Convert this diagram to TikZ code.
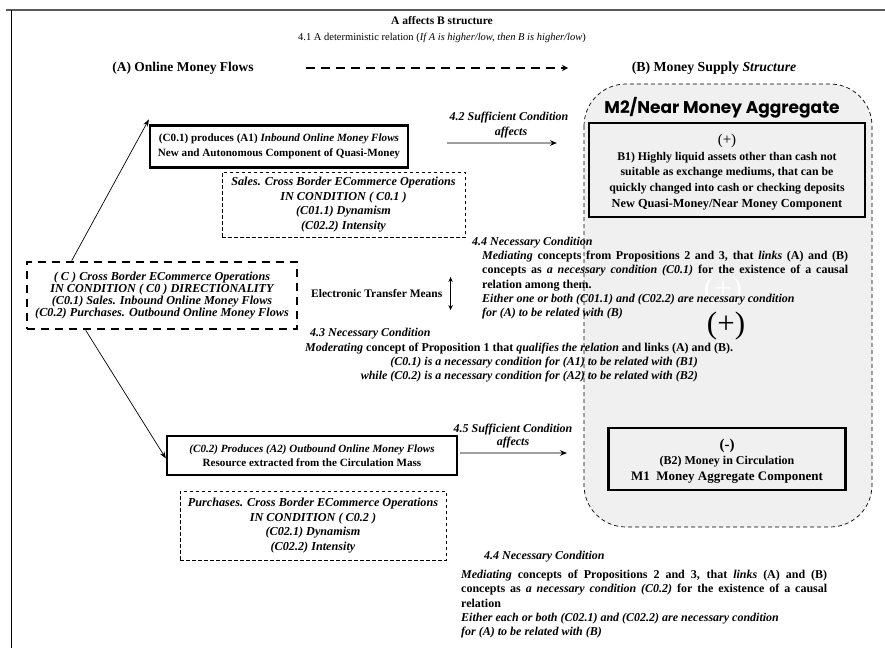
\documentclass[tikz,border=0pt]{standalone}
\usepackage{fontspec}
\setmainfont{Liberation Serif}
\newfontfamily\popfont{Poppins}
\usetikzlibrary{arrows.meta,calc}
\definecolor{regiongray}{HTML}{F0F0F0}
\begin{document}
\begin{tikzpicture}[x=1pt,y=-1pt,
  txt/.style={inner sep=0pt, align=center, font=\fontsize{12}{14.5}\selectfont\bfseries},
  itxt/.style={inner sep=0pt, align=center, font=\fontsize{12}{14.5}\selectfont\bfseries\itshape},
  solidbox/.style={draw, line width=2.2pt, inner sep=0pt, align=center, font=\fontsize{11.1}{14.5}\selectfont\bfseries},
  thinbox/.style={draw, line width=0.7pt, dash pattern=on 3.5pt off 2.5pt, inner sep=0pt, align=center, font=\fontsize{12.2}{14.8}\selectfont\bfseries\itshape},
  thickdash/.style={draw, line width=2.6pt, dash pattern=on 8pt off 6pt, inner sep=0pt, align=center, font=\fontsize{12.2}{12.2}\selectfont\bfseries\itshape},
  link/.style={-{Stealth[length=7pt,width=5pt]}, line width=0.7pt},
  suff/.style={-{Stealth[length=7pt,width=5.5pt,color=black]}, line width=2pt, draw=gray!75},
  para/.style={inner sep=0pt, anchor=north west, text width=366pt, align=justify, font=\fontsize{12}{14.3}\selectfont\bfseries}
]
\useasboundingbox (0,0) rectangle (885,648);
% frame
\draw[gray!70!black, line width=1.6pt] (6,10) -- (885,10);
\draw[black, line width=1pt] (11,10) -- (11,648);

% header
\node[inner sep=0pt, font=\fontsize{11.5}{13}\selectfont\bfseries] (title) at (442,21) {A affects B structure};
\node[inner sep=0pt, font=\fontsize{10.5}{12}\selectfont] (t41) at (442,38) {4.1 A deterministic relation (\textit{If A is higher/low, then B is higher/low})};
\node[inner sep=0pt, font=\fontsize{13.5}{15}\selectfont\bfseries] (hA) at (183,68) {(A) Online Money Flows};
\node[inner sep=0pt, font=\fontsize{13.8}{15}\selectfont\bfseries] (hB) at (714,68) {(B) Money Supply \textit{Structure}};
\coordinate (dA) at (306,68);
\coordinate (dB) at (568,68);
\draw[line width=2.6pt, dash pattern=on 9pt off 6pt, -{Stealth[length=6pt,width=6pt]}] (dA) -- (dB);

% region B
\fill[regiongray, rounded corners=42pt] (584,84) rectangle (872,527);
\node[inner sep=0pt, font=\popfont\fontsize{17}{20}\selectfont\bfseries] (m2) at (722,108) {M2/Near Money Aggregate};
\node[inner sep=0pt, text=white, font=\fontsize{31}{33}\selectfont] (ghost) at (723,291) {(+)};
\node[inner sep=0pt, font=\fontsize{31}{33}\selectfont] (plus) at (726,326) {(+)};

% B boxes
\node[solidbox, minimum width=276pt, minimum height=94pt] (B1) at (727,170) {};
\node[inner sep=0pt, align=center, font=\fontsize{11.8}{15.6}\selectfont\bfseries] (B1t) at (727,172)
  {{\fontsize{15}{15.6}\selectfont\mdseries (+)}\\B1) Highly liquid assets other than cash not\\suitable as exchange mediums, that can be\\quickly changed into cash or checking deposits\\{\fontsize{12.3}{15.6}\selectfont New Quasi-Money/Near Money Component}};
\node[solidbox, minimum width=237pt, minimum height=62pt] (B2) at (727,459) {};
\node[inner sep=0pt, align=center, font=\fontsize{12}{15.5}\selectfont\bfseries] (B2t) at (727,461)
  {{\fontsize{15}{15.5}\selectfont (-)}\\(B2) Money in Circulation\\{\fontsize{13}{15.5}\selectfont M1\ \ Money Aggregate Component}};

% left side
\node[thickdash, minimum width=270pt, minimum height=67pt] (C) at (162,295.5)
  {( C ) Cross Border ECommerce Operations\\IN CONDITION ( C0 ) DIRECTIONALITY\\(C0.1) Sales. Inbound Online Money Flows\\(C0.2) Purchases. Outbound Online Money Flows};
\node[solidbox, minimum width=258pt, minimum height=42pt] (A1) at (279,146.5)
  {(C0.1) produces (A1) \textit{Inbound Online Money Flows}\\New and Autonomous Component of Quasi-Money};
\node[thinbox, minimum width=243pt, minimum height=65pt] (S1) at (343.5,204.5)
  {Sales. Cross Border ECommerce Operations\\IN CONDITION ( C0.1 )\\(C01.1) Dynamism\\(C02.2) Intensity};
\node[solidbox, minimum width=290pt, minimum height=39pt] (A2) at (312,455.5)
  {\textit{(C0.2) Produces (A2) Outbound Online Money Flows}\\Resource extracted from the Circulation Mass};
\node[thinbox, minimum width=266pt, minimum height=69pt] (P2) at (313,525.5)
  {Purchases. Cross Border ECommerce Operations\\IN CONDITION ( C0.2 )\\(C02.1) Dynamism\\(C02.2) Intensity};

\draw[link] ([xshift=46pt]C.north west) -- ([yshift=5pt]A1.north west);
\draw[link] ([xshift=60pt]C.south west) -- ([yshift=-3pt]A2.west);

% electronic transfer
\node[inner sep=0pt, anchor=west, font=\fontsize{11.5}{13}\selectfont\bfseries] (etm) at (311,294) {Electronic Transfer Means};
\draw[{Stealth[length=5pt,width=4.5pt]}-{Stealth[length=5pt,width=4.5pt]}, line width=0.7pt] ([xshift=8pt,yshift=-16pt]etm.east) -- ([xshift=8pt,yshift=17pt]etm.east);

% sufficient arrows
\coordinate (a42s) at (447,143);
\coordinate (a42e) at (557,143);
\draw[suff] (a42s) -- (a42e);
\node[itxt] (l42) at (509,118) {4.2 Sufficient Condition};
\node[itxt] (l42b) at (511,133) {affects};
\coordinate (a45s) at (460,453);
\coordinate (a45e) at (567,453);
\draw[suff] (a45s) -- (a45e);
\node[itxt] (l45) at (513,430) {4.5 Sufficient Condition};
\node[itxt] (l45b) at (513,443) {affects};

% 4.4 upper
\node[itxt, anchor=west] (h44a) at (472,243) {4.4 Necessary Condition};
\node[para] (p44a) at (482,251) {\textit{Mediating} concepts from Propositions 2 and 3, that \textit{links} (A) and (B)\linebreak concepts as \textit{a necessary condition (C0.1)} for the existence of a causal\linebreak relation among them.\\
\textit{Either one or both (C01.1) and (C02.2) are necessary condition}\\
\textit{for (A) to be related with (B)}};

% 4.3
\node[itxt, anchor=west] (h43) at (310,334) {4.3 Necessary Condition};
\node[txt, anchor=west] (m43) at (305,349) {\textit{Moderating} concept of Proposition 1 that \textit{qualifies the relation} and links (A) and (B).};
\node[itxt, anchor=east] (m43b) at (698,363) {(C0.1) is a necessary condition for (A1) to be related with (B1)};
\node[itxt, anchor=east] (m43c) at (698,377) {while (C0.2) is a necessary condition for (A2) to be related with (B2)};

% 4.4 lower
\node[itxt, anchor=west] (h44b) at (484,557) {4.4 Necessary Condition};
\node[para] (p44b) at (461,570) {\textit{Mediating} concepts of Propositions 2 and 3, that \textit{links} (A) and (B)\linebreak concepts as \textit{a necessary condition (C0.2)} for the existence of a causal\linebreak relation\\
\textit{Either each or both (C02.1) and (C02.2) are necessary condition}\\
\textit{\ for (A) to be related with (B)}};

% region border on top
\draw[line width=0.7pt, dash pattern=on 4pt off 3pt, rounded corners=42pt] (584,84) rectangle (872,527);
\end{tikzpicture}
\end{document}
